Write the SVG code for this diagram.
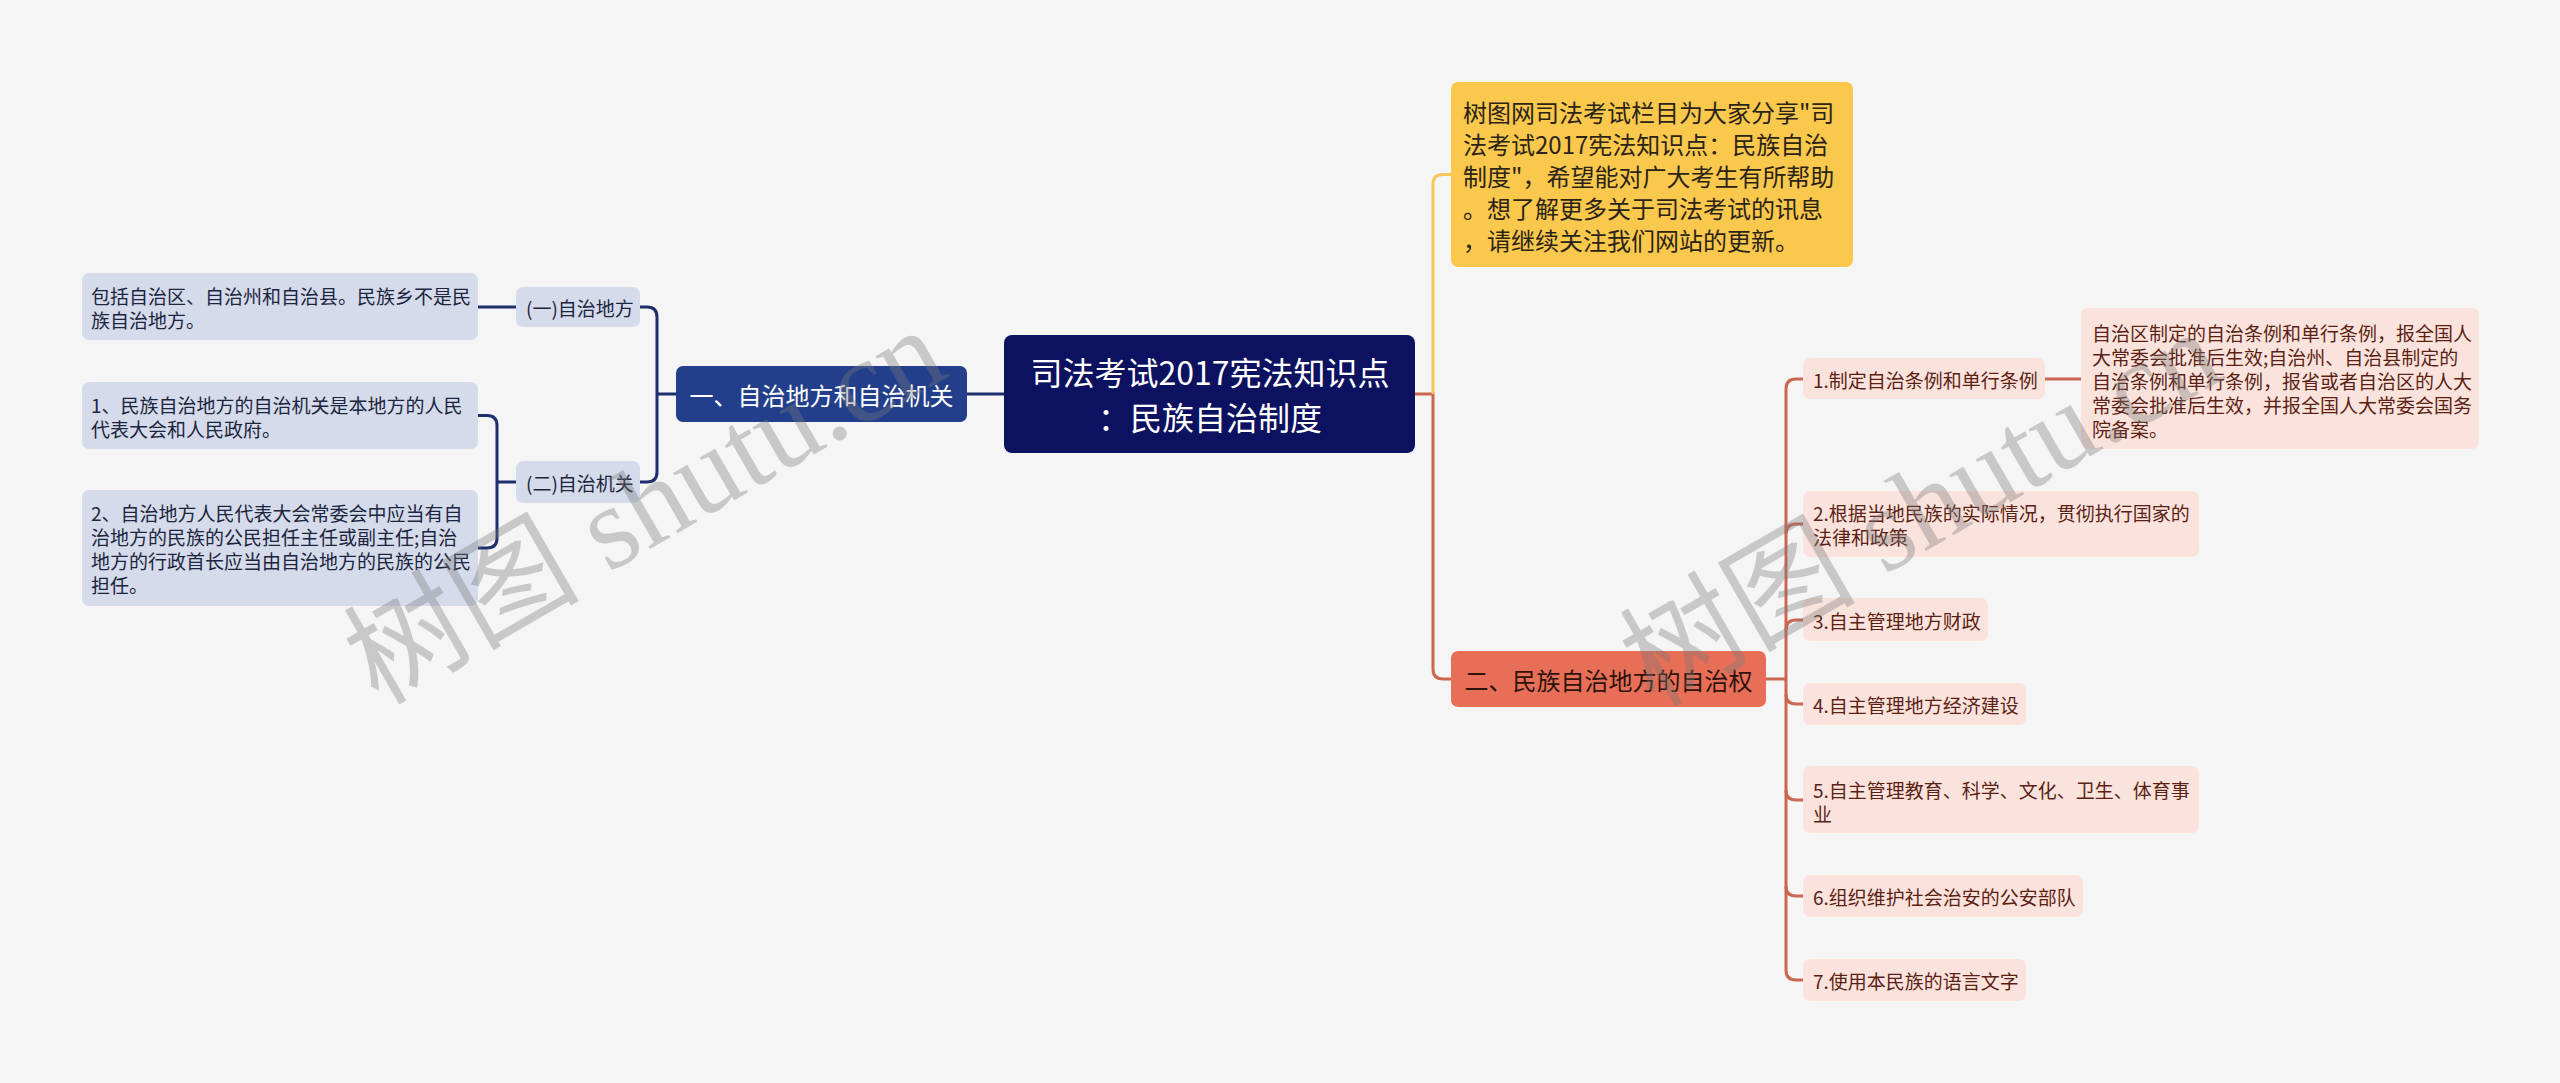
<svg xmlns="http://www.w3.org/2000/svg" width="2560" height="1083" viewBox="0 0 2560 1083">
<style>
text{font-family:"Noto Sans CJK SC","Noto Sans",sans-serif;dominant-baseline:central}
.root rect{fill:#0c1160}
.root text{fill:#ffffff;font-size:32px;text-anchor:middle}
.l1 rect{fill:#233f8c}
.l1 text{fill:#ffffff;font-size:24px;text-anchor:middle}
.lb rect{fill:#d5dbea}
.lb text{fill:#1b2540;font-size:19px}
.r1 rect{fill:#e76f58}
.r1 text{fill:#2e120c;font-size:24px;text-anchor:middle}
.note rect{fill:#fac84c}
.note text{fill:#2b2416;font-size:24px}
.rp rect{fill:#fbe3dd}
.rp text{fill:#5c1f14;font-size:19px}
.cl{fill:none;stroke:#1e2f6e;stroke-width:3}
.cr{fill:none;stroke:#cc6650;stroke-width:3}
.cy{fill:none;stroke:#f5c65a;stroke-width:3}
.wm{font-family:"Liberation Serif","Noto Sans CJK SC",serif;font-size:118px;fill:#7a7a7a;opacity:0.36;dominant-baseline:alphabetic}
</style>
<rect x="0" y="0" width="2560" height="1083" fill="#f5f5f5"/>
<g id="connectors">
<path class="cl" d="M1004,394 H967"/>
<path class="cl" d="M676,394 H657"/>
<path class="cl" d="M640,307 H647 Q657,307 657,317 V472 Q657,482 647,482 H640"/>
<path class="cl" d="M516,307 H478"/>
<path class="cl" d="M516,482 H497"/>
<path class="cl" d="M478,415.5 H487 Q497,415.5 497,425.5 V538 Q497,548 487,548 H478"/>
<path class="cr" d="M1415,394 H1433 V669 Q1433,679 1443,679 H1451"/>
<path class="cy" d="M1433,394 V184 Q1433,174.5 1443,174.5 H1451"/>
<path class="cr" d="M1766,679 H1786"/>
<path class="cr" d="M1803,379 H1796 Q1786,379 1786,389 V970 Q1786,980 1796,980 H1803"/>
<path class="cr" d="M1786,534 Q1786,524 1796,524 H1803"/>
<path class="cr" d="M1786,630 Q1786,620 1796,620 H1803"/>
<path class="cr" d="M1786,694 Q1786,704 1796,704 H1803"/>
<path class="cr" d="M1786,790 Q1786,800 1796,800 H1803"/>
<path class="cr" d="M1786,886 Q1786,896 1796,896 H1803"/>
<path class="cr" d="M2045,379 H2081"/>
</g>
<g id="root" class="root">
<rect x="1004" y="335" width="411" height="118" rx="8"/>
<text x="1210" y="371">司法考试2017宪法知识点</text>
<text x="1210" y="416">：民族自治制度</text>
</g>
<g id="n-left" class="l1">
<rect x="676" y="366" width="291" height="56" rx="7"/>
<text x="821.5" y="394">一、自治地方和自治机关</text>
</g>
<g id="n-l-a" class="lb">
<rect x="516" y="287" width="124" height="40" rx="7"/>
<text x="526" y="307">(一)自治地方</text>
</g>
<g id="n-l-a1" class="lb">
<rect x="82" y="273" width="396" height="67" rx="7"/>
<text x="91" y="295">包括自治区、自治州和自治县。民族乡不是民</text>
<text x="91" y="319">族自治地方。</text>
</g>
<g id="n-l-b" class="lb">
<rect x="516" y="461" width="124" height="42" rx="7"/>
<text x="526" y="482">(二)自治机关</text>
</g>
<g id="n-l-b1" class="lb">
<rect x="82" y="382" width="396" height="67" rx="7"/>
<text x="91" y="404">1、民族自治地方的自治机关是本地方的人民</text>
<text x="91" y="428">代表大会和人民政府。</text>
</g>
<g id="n-l-b2" class="lb">
<rect x="82" y="490" width="396" height="116" rx="7"/>
<text x="91" y="512">2、自治地方人民代表大会常委会中应当有自</text>
<text x="91" y="536">治地方的民族的公民担任主任或副主任;自治</text>
<text x="91" y="560">地方的行政首长应当由自治地方的民族的公民</text>
<text x="91" y="584">担任。</text>
</g>
<g id="n-note" class="note">
<rect x="1451" y="82" width="402" height="185" rx="7"/>
<text x="1463" y="111">树图网司法考试栏目为大家分享"司</text>
<text x="1463" y="143">法考试2017宪法知识点：民族自治</text>
<text x="1463" y="175">制度"，希望能对广大考生有所帮助</text>
<text x="1463" y="207">。想了解更多关于司法考试的讯息</text>
<text x="1463" y="239">，请继续关注我们网站的更新。</text>
</g>
<g id="n-right" class="r1">
<rect x="1451" y="651" width="315" height="56" rx="7"/>
<text x="1608.5" y="679">二、民族自治地方的自治权</text>
</g>
<g id="n-r1" class="rp">
<rect x="1803" y="358" width="242" height="41" rx="7"/>
<text x="1813" y="379">1.制定自治条例和单行条例</text>
</g>
<g id="n-r1a" class="rp">
<rect x="2081" y="308" width="398" height="141" rx="7"/>
<text x="2092" y="332">自治区制定的自治条例和单行条例，报全国人</text>
<text x="2092" y="356">大常委会批准后生效;自治州、自治县制定的</text>
<text x="2092" y="380">自治条例和单行条例，报省或者自治区的人大</text>
<text x="2092" y="404">常委会批准后生效，并报全国人大常委会国务</text>
<text x="2092" y="428">院备案。</text>
</g>
<g id="n-r2" class="rp">
<rect x="1803" y="491" width="396" height="66" rx="7"/>
<text x="1813" y="512">2.根据当地民族的实际情况，贯彻执行国家的</text>
<text x="1813" y="536">法律和政策</text>
</g>
<g id="n-r3" class="rp">
<rect x="1803" y="598" width="185" height="43" rx="7"/>
<text x="1813" y="620">3.自主管理地方财政</text>
</g>
<g id="n-r4" class="rp">
<rect x="1803" y="683" width="223" height="42" rx="7"/>
<text x="1813" y="704">4.自主管理地方经济建设</text>
</g>
<g id="n-r5" class="rp">
<rect x="1803" y="766" width="396" height="67" rx="7"/>
<text x="1813" y="789">5.自主管理教育、科学、文化、卫生、体育事</text>
<text x="1813" y="813">业</text>
</g>
<g id="n-r6" class="rp">
<rect x="1803" y="875" width="280" height="42" rx="7"/>
<text x="1813" y="896">6.组织维护社会治安的公安部队</text>
</g>
<g id="n-r7" class="rp">
<rect x="1803" y="959" width="223" height="42" rx="7"/>
<text x="1813" y="980">7.使用本民族的语言文字</text>
</g>
<g id="watermark">
<text class="wm" transform="translate(378,706) rotate(-30)">树图 shutu.cn</text>
<text class="wm" transform="translate(1654,708) rotate(-30)">树图 shutu.cn</text>
</g>
</svg>
